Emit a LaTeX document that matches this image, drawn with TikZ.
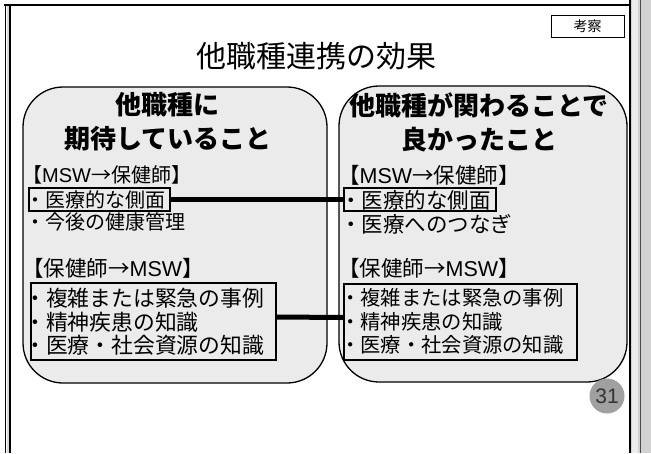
\documentclass[tikz,border=0pt]{standalone}
\usepackage{fontspec}
\setmainfont{Noto Sans CJK JP}
\newfontfamily\lat{Liberation Sans}
\definecolor{boxgray}{HTML}{EBEBEB}
\definecolor{stripgray}{HTML}{D2D2D2}
\definecolor{pggray}{HTML}{A0A0A0}
\newcommand{\fs}[1]{\fontsize{#1}{#1}\selectfont}
\newcommand{\msw}{{\lat MSW}}
\tikzset{
  rbox/.style={draw, line width=1.3, fill=boxgray, rounded corners=40, inner sep=0},
  ibox/.style={draw, line width=2.4, inner sep=0},
  link/.style={line width=5},
  item/.style={anchor=west, inner sep=0},
  head/.style={align=center, inner sep=0, font=\bfseries\fontsize{26}{34}\selectfont},
}
\begin{document}
\begin{tikzpicture}[x=1pt,y=-1pt]
\useasboundingbox (0,0) rectangle (651,453);
\fill[white] (0,0) rectangle (651,453);
% frame
\fill[stripgray] (630,0) rectangle (651,453);
\fill[gray!15] (632,0) rectangle (638,453);
\draw[line width=1, black!70] (640,0) -- (640,453);
\draw[line width=2] (629.5,0) -- (629.5,453);
\fill[gray!30] (6.5,5) rectangle (9,453);
\draw[line width=2] (4,5) -- (630,5);
\draw[line width=1.5] (5.5,4) -- (5.5,453);
\draw[line width=2] (10,5) -- (10,453);
% title and tag
\node[inner sep=0, font=\fs{30}] (title) at (316,56) {他職種連携の効果};
\node[draw, line width=1, minimum width=73, minimum height=22, inner sep=0, font=\fs{14}] (tag) at (587.5,26) {考察};
% rounded boxes
\node[rbox, minimum width=304, minimum height=296] (L) at (175,235) {};
\node[rbox, minimum width=288, minimum height=296] (R) at (483,234) {};
% headers
\node[head] (lh) at (168,122) {他職種に\\期待していること};
\node[head] (rh) at (479,122) {他職種が関わることで\\良かったこと};
% inner boxes
\node[ibox, minimum width=141, minimum height=23] (lb1) at (99.5,199.5) {};
\node[ibox, minimum width=245, minimum height=77] (lb2) at (153.5,321.5) {};
\node[ibox, minimum width=152, minimum height=23] (rb1) at (420,199.5) {};
\node[ibox, minimum width=233, minimum height=76] (rb2) at (460.5,322) {};
% left texts
\node[item, font=\fs{20}] (l1) at (22,175) {【\msw→保健師】};
\node[item, font=\fs{20}] (l2) at (25,200) {・医療的な側面};
\node[item, font=\fs{20}] (l3) at (25,222) {・今後の健康管理};
\node[item, font=\fs{21.5}] (l4) at (22,268) {【保健師→\msw】};
\node[item, font=\fs{21.8}] (l5) at (24,298) {・複雑または緊急の事例};
\node[item, font=\fs{21.8}] (l6) at (24,322) {・精神疾患の知識};
\node[item, font=\fs{21.8}] (l7) at (24,345) {・医療・社会資源の知識};
% right texts
\node[item, font=\fs{21.5}] (r1) at (338,175) {【\msw→保健師】};
\node[item, font=\fs{21.5}] (r2) at (340,200) {・医療的な側面};
\node[item, font=\fs{21.5}] (r3) at (340,224) {・医療へのつなぎ};
\node[item, font=\fs{21.5}] (r4) at (338,268) {【保健師→\msw】};
\node[item, font=\fs{20.3}] (r5) at (340,298) {・複雑または緊急の事例};
\node[item, font=\fs{20.3}] (r6) at (340,322) {・精神疾患の知識};
\node[item, font=\fs{20.3}] (r7) at (340,345) {・医療・社会資源の知識};
% connectors
\draw[link] (lb1.east) -- (rb1.west);
\draw[link] ([yshift=4.5pt]lb2.east) -- ([yshift=4.5pt]rb2.west);
% page number
\node[circle, fill=pggray, minimum size=35, inner sep=0, text=black!80, font=\lat\fs{21}] (pg) at (607,396) {31};
\end{tikzpicture}
\end{document}
